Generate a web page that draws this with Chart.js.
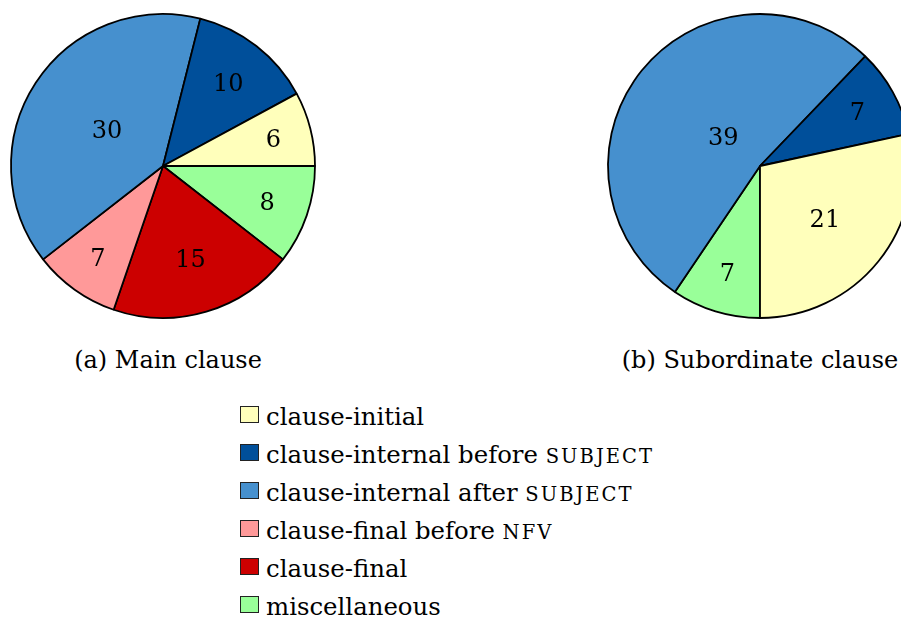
<!DOCTYPE html>
<html>
<head>
<meta charset="utf-8">
<script src="https://cdn.jsdelivr.net/npm/chart.js@4/dist/chart.umd.min.js"></script>
<style>
  html, body { margin: 0; padding: 0; background: #fff; }
  body { width: 901px; height: 619px; overflow: hidden; position: relative;
         font-family: "DejaVu Serif", serif; color: #000; }
  canvas { position: absolute; top: 0; }
  #pieMain { left: 0; }
  #pieSub { left: 597px; }
  .caption { position: absolute; top: 342px; width: 400px; text-align: center;
             font-size: 24px; line-height: 37px; white-space: nowrap; }
  #legend { position: absolute; left: 240px; top: 398px; font-size: 24.4px;
            line-height: 38px; white-space: nowrap; }
  .row { height: 38px; }
  .sw { display: inline-block; width: 17px; height: 15px; border: 1px solid #222;
        margin: 0 7px 2px 0; }
  .sc { text-transform: uppercase; font-size: 0.8em; letter-spacing: 2px; }
</style>
</head>
<body>
<canvas id="pieMain" width="326" height="332"></canvas>
<canvas id="pieSub" width="326" height="332"></canvas>
<div class="caption" id="capMain" style="left:-32px"></div>
<div class="caption" id="capSub" style="left:560px"></div>
<div id="legend"></div>

<script>
// Placement categories (legend order) and the small-caps word that follows some of them
const categories = ['clause-initial', 'clause-internal before', 'clause-internal after',
                    'clause-final before', 'clause-final', 'miscellaneous'];
const categoryTags = ['', 'subject', 'subject', 'nfv', '', ''];
const colors = ['#FFFFBB', '#004F9A', '#4690CE', '#FF9999', '#CC0000', '#99FF99'];

// Counts per category
const mainClause = [6, 10, 30, 7, 15, 8];
const subordinateClause = [21, 7, 39, 0, 0, 7];

const captions = ['(a) Main clause', '(b) Subordinate clause'];

// Slices run counter-clockwise in legend order; Chart.js draws clockwise,
// so the series are handed over reversed.
const rev = a => a.slice().reverse();

// Numbers inside the slices: distance from the centre shrinks for wide slices
const LABEL_SIZE = 24;
const sliceLabels = {
  id: 'sliceLabels',
  afterDatasetsDraw(chart) {
    const ctx = chart.ctx;
    const meta = chart.getDatasetMeta(0);
    const data = chart.data.datasets[0].data;
    ctx.save();
    ctx.font = LABEL_SIZE + 'px "DejaVu Serif", serif';
    ctx.fillStyle = '#000';
    ctx.textAlign = 'center';
    ctx.textBaseline = 'alphabetic';
    meta.data.forEach((arc, i) => {
      if (!data[i]) return;
      const p = arc.getProps(['x', 'y', 'startAngle', 'endAngle', 'outerRadius'], true);
      const deg = (p.endAngle - p.startAngle) * 180 / Math.PI;
      const pos = Math.max(Math.min((deg - 10) / 110 * -0.3, 0), -0.5) + 0.8;
      const mid = (p.startAngle + p.endAngle) / 2;
      // centre the digits (cap height ~0.73em) on the anchor point
      ctx.fillText(String(data[i]),
                   p.x + Math.cos(mid) * p.outerRadius * pos,
                   p.y + Math.sin(mid) * p.outerRadius * pos + LABEL_SIZE * 0.365);
    });
    ctx.restore();
  }
};

function makePie(id, values, rotation) {
  return new Chart(document.getElementById(id), {
    type: 'pie',
    data: {
      labels: rev(categories),
      datasets: [{
        data: rev(values),
        backgroundColor: rev(colors),
        borderColor: '#000',
        borderWidth: 1.8,
        hoverOffset: 0
      }]
    },
    options: {
      responsive: false,
      animation: false,
      events: [],
      rotation: rotation,
      radius: 152,
      layout: { padding: 0 },
      plugins: { legend: { display: false }, tooltip: { enabled: false } }
    },
    plugins: [sliceLabels]
  });
}

makePie('pieMain', mainClause, 90);
makePie('pieSub', subordinateClause, 180);

document.getElementById('capMain').textContent = captions[0];
document.getElementById('capSub').textContent = captions[1];

const legend = document.getElementById('legend');
categories.forEach((name, i) => {
  const row = document.createElement('div');
  row.className = 'row';
  const sw = document.createElement('span');
  sw.className = 'sw';
  sw.style.background = colors[i];
  row.appendChild(sw);
  row.appendChild(document.createTextNode(name));
  if (categoryTags[i]) {
    row.appendChild(document.createTextNode(' '));
    const sc = document.createElement('span');
    sc.className = 'sc';
    sc.textContent = categoryTags[i];
    row.appendChild(sc);
  }
  legend.appendChild(row);
});
</script>
</body>
</html>
